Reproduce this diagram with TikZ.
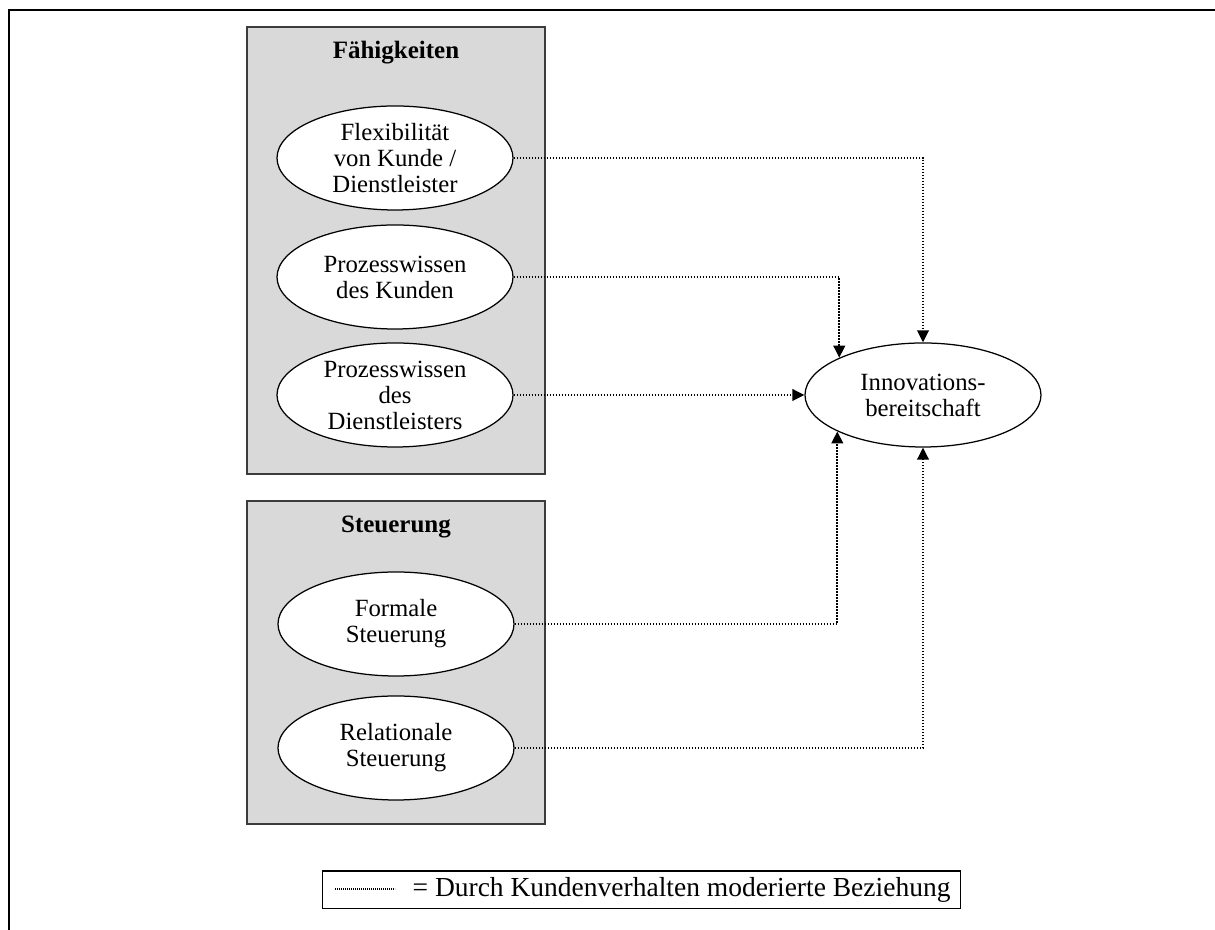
\documentclass[tikz,border=0pt]{standalone}
\usepackage{fontspec}
\setmainfont{Liberation Serif}
\usetikzlibrary{arrows.meta,shapes.geometric}
\definecolor{boxgrau}{HTML}{D9D9D9}
\definecolor{randgrau}{HTML}{3C3C3C}

\begin{document}
\begin{tikzpicture}[x=0.4pt,y=-0.4pt]
	\tikzstyle{feld}=[rectangle,draw=randgrau,fill=boxgrau,line width=0.5pt,minimum width=119.2pt,inner sep=0pt]
	\tikzstyle{titel}=[font=\fontsize{10}{11}\selectfont\bfseries,inner sep=0pt]
	\tikzstyle{konstrukt}=[ellipse,draw=black,fill=white,line width=0.5pt,minimum width=94.4pt,minimum height=41.6pt,inner sep=-8pt,align=center,font=\fontsize{9.9}{10.4}\selectfont]
	\tikzstyle{moderiert}=[line width=0.9pt,dash pattern=on 0.6pt off 0.6pt,-{Triangle[length=4.8pt,width=4.6pt]}]
	\useasboundingbox (0,0) rectangle (1215,930);
	% Rahmen
	\draw[line width=1pt] (9,930) -- (9,10) -- (1215,10);
	% Gruppen
	\node[feld,minimum height=178.8pt] (a) at (396,250.5) {};
	\node[feld,minimum height=129.2pt] (b) at (396,662.5) {};
	\node[titel] (ta) at (396,53) {Fähigkeiten};
	\node[titel] (tb) at (396,527) {Steuerung};
	% Konstrukte
	\node[konstrukt] (1) at (395,158) {Flexibilität\\von Kunde /\\Dienstleister};
	\node[konstrukt] (2) at (395,277) {Prozesswissen\\des Kunden};
	\node[konstrukt] (3) at (395,395) {Prozesswissen\\des\\Dienstleisters};
	\node[konstrukt] (4) at (396,624) {Formale\\Steuerung};
	\node[konstrukt] (5) at (396,748) {Relationale\\Steuerung};
	\node[konstrukt] (6) at (923,395) {Innovations-\\bereitschaft};
	% Beziehungen
	\draw[moderiert] (1.east) -| (6.north);
	\draw[moderiert] (2.east) -| (6.156.5);
	\draw[moderiert] (3.east) -- (6.west);
	\draw[moderiert] (4.east) -| (6.203.5);
	\draw[moderiert] (5.east) -| (6.south);
	% Legende
	\node[draw=black,line width=0.5pt,anchor=west,inner xsep=4pt,inner ysep=2.6pt,text height=7.5pt,text depth=2.4pt,font=\fontsize{11}{13}\selectfont] (leg) at (322,890) {\hspace*{32pt}= Durch Kundenverhalten moderierte Beziehung};
	\coordinate (l1) at (335,889);
	\coordinate (l2) at (395,889);
	\draw[line width=0.55pt,dash pattern=on 0.4pt off 0.4pt] (l1) -- (l2);
\end{tikzpicture}
\end{document}
